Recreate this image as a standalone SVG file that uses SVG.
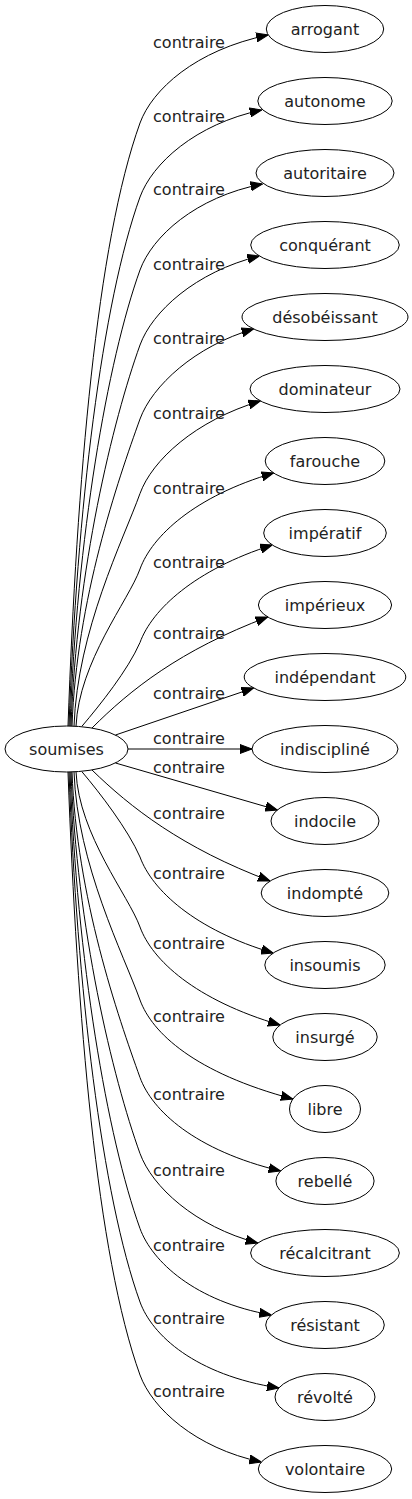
<svg xmlns="http://www.w3.org/2000/svg" width="412" height="1499" viewBox="0 0 412 1499">
<style>
.node ellipse{fill:none;stroke:#000;stroke-width:1}
.node text{font-family:"DejaVu Sans",sans-serif;font-size:16px;fill:#222;text-anchor:middle}
.edge path{fill:none;stroke:#000;stroke-width:1;marker-end:url(#ah)}
.edge text{font-family:"DejaVu Sans",sans-serif;font-size:16px;fill:#222;text-anchor:middle}
</style>
<defs>
<marker id="ah" viewBox="0 -5 12 10" refX="12" refY="0" markerWidth="12" markerHeight="10" markerUnits="userSpaceOnUse" orient="auto">
<path d="M0,-4.5L12,0L0,4.5z" fill="#000" stroke="#000" stroke-width="1"/>
</marker>
</defs>
<rect width="412" height="1499" fill="#fff"/>
<g id="edges">
<g class="edge" id="e0"><path d="M68,726 C77,478.5 96.6,243.6 140,123 C152,90 195,50 268.2,35"/><text x="189" y="48">contraire</text></g>
<g class="edge" id="e1"><path d="M69,726 C76.9,508.8 101.9,302.8 140,197 C152,164 195,124 261.8,110"/><text x="189" y="122">contraire</text></g>
<g class="edge" id="e2"><path d="M70,726 C76.8,538.7 107.2,361.2 140,270 C152,237 195,197 262.6,184"/><text x="189" y="195">contraire</text></g>
<g class="edge" id="e3"><path d="M71,726 C76.7,569.5 112.6,421.2 140,345 C152,312 195,272 259.3,256"/><text x="189" y="270">contraire</text></g>
<g class="edge" id="e4"><path d="M72,726 C76.6,599.9 117.9,480.4 140,419 C152,386 195,346 253.6,329"/><text x="189" y="344">contraire</text></g>
<g class="edge" id="e5"><path d="M74,726.2 C77.5,630.3 123.3,540 140,493.5 C152,460.5 195,420.5 260.4,401"/><text x="189" y="418.5">contraire</text></g>
<g class="edge" id="e6"><path d="M76,726.3 C79,661.5 128.7,600.5 140,569 C152,536 195,496 273.6,473"/><text x="189" y="494">contraire</text></g>
<g class="edge" id="e7"><path d="M82,726.2 C100,705 128,670 140,642.5 C152,609.5 195,569.5 272.3,545"/><text x="189" y="567.5">contraire</text></g>
<g class="edge" id="e8"><path d="M92,728 C130,690 180,650 267.7,617"/><text x="189" y="639">contraire</text></g>
<g class="edge" id="e9"><path d="M115.5,735 L253.6,688"/><text x="189" y="699">contraire</text></g>
<g class="edge" id="e10"><path d="M128,749 L252,749"/><text x="189" y="744">contraire</text></g>
<g class="edge" id="e11"><path d="M115.5,763 L277.4,810"/><text x="189" y="772.5">contraire</text></g>
<g class="edge" id="e12"><path d="M92,770 C130,807 182,848 270.1,881"/><text x="189" y="819">contraire</text></g>
<g class="edge" id="e13"><path d="M82,771.8 C100,793 128,829.5 140,857 C152,890 195,930 273.2,953"/><text x="189" y="879">contraire</text></g>
<g class="edge" id="e14"><path d="M76,771.7 C79,835 128.8,895.9 140,927 C152,960 195,1000 280.1,1025"/><text x="189" y="949">contraire</text></g>
<g class="edge" id="e15"><path d="M74,771.8 C77.4,865 123.6,954.4 140,1000 C152,1033 195,1073 292.9,1099"/><text x="189" y="1022">contraire</text></g>
<g class="edge" id="e16"><path d="M72,771.9 C76.6,897 118,1016.4 140,1077.5 C152,1110.5 195,1150.5 280.6,1171"/><text x="189" y="1099.5">contraire</text></g>
<g class="edge" id="e17"><path d="M71,772 C76.7,928 112.5,1077.2 140,1153.5 C152,1186.5 195,1226.5 257.7,1243"/><text x="189" y="1175.5">contraire</text></g>
<g class="edge" id="e18"><path d="M70,772 C76.8,959 107.1,1137.2 140,1228.5 C152,1261.5 195,1301.5 271.3,1315"/><text x="189" y="1250.5">contraire</text></g>
<g class="edge" id="e19"><path d="M69,772 C77,989 101.8,1196 140,1302 C152,1335 195,1375 279,1388"/><text x="189" y="1324">contraire</text></g>
<g class="edge" id="e20"><path d="M68,772 C77.1,1019 96.6,1254.4 140,1375 C152,1408 195,1448 261.3,1462"/><text x="189" y="1397">contraire</text></g>
</g>
<g class="node" id="soumises"><ellipse cx="66.5" cy="749" rx="61.5" ry="23"/><text x="66.5" y="755">soumises</text></g>
<g class="node" id="arrogant"><ellipse cx="325" cy="29" rx="58.7" ry="23.5"/><text x="325" y="35">arrogant</text></g>
<g class="node" id="autonome"><ellipse cx="325" cy="101" rx="67.2" ry="23.5"/><text x="325" y="107">autonome</text></g>
<g class="node" id="autoritaire"><ellipse cx="325" cy="173" rx="69" ry="23.5"/><text x="325" y="179">autoritaire</text></g>
<g class="node" id="conquerant"><ellipse cx="325" cy="245" rx="74.3" ry="23.5"/><text x="325" y="251">conquérant</text></g>
<g class="node" id="desobeissant"><ellipse cx="325" cy="317" rx="83" ry="23.5"/><text x="325" y="323">désobéissant</text></g>
<g class="node" id="dominateur"><ellipse cx="325" cy="389" rx="75" ry="23.5"/><text x="325" y="395">dominateur</text></g>
<g class="node" id="farouche"><ellipse cx="325" cy="461" rx="59.8" ry="23.5"/><text x="325" y="467">farouche</text></g>
<g class="node" id="imperatif"><ellipse cx="325" cy="533" rx="61.3" ry="23.5"/><text x="325" y="539">impératif</text></g>
<g class="node" id="imperieux"><ellipse cx="325" cy="605" rx="66.6" ry="23.5"/><text x="325" y="611">impérieux</text></g>
<g class="node" id="independant"><ellipse cx="325" cy="677" rx="80.8" ry="23.5"/><text x="325" y="683">indépendant</text></g>
<g class="node" id="indiscipline"><ellipse cx="325" cy="749" rx="73" ry="23.5"/><text x="325" y="755">indiscipliné</text></g>
<g class="node" id="indocile"><ellipse cx="325" cy="821" rx="54" ry="23.5"/><text x="325" y="827">indocile</text></g>
<g class="node" id="indompte"><ellipse cx="325" cy="893" rx="63.8" ry="23.5"/><text x="325" y="899">indompté</text></g>
<g class="node" id="insoumis"><ellipse cx="325" cy="965" rx="60.2" ry="23.5"/><text x="325" y="971">insoumis</text></g>
<g class="node" id="insurge"><ellipse cx="325" cy="1037" rx="52.2" ry="23.5"/><text x="325" y="1043">insurgé</text></g>
<g class="node" id="libre"><ellipse cx="325" cy="1109" rx="35.5" ry="23.5"/><text x="325" y="1115">libre</text></g>
<g class="node" id="rebelle"><ellipse cx="325" cy="1181" rx="49.1" ry="23.5"/><text x="325" y="1187">rebellé</text></g>
<g class="node" id="recalcitrant"><ellipse cx="325" cy="1253" rx="74.4" ry="23.5"/><text x="325" y="1259">récalcitrant</text></g>
<g class="node" id="resistant"><ellipse cx="325" cy="1325" rx="59.3" ry="23.5"/><text x="325" y="1331">résistant</text></g>
<g class="node" id="revolte"><ellipse cx="325" cy="1397" rx="50" ry="23.5"/><text x="325" y="1403">révolté</text></g>
<g class="node" id="volontaire"><ellipse cx="325" cy="1469" rx="66.7" ry="23.5"/><text x="325" y="1475">volontaire</text></g>
</svg>
